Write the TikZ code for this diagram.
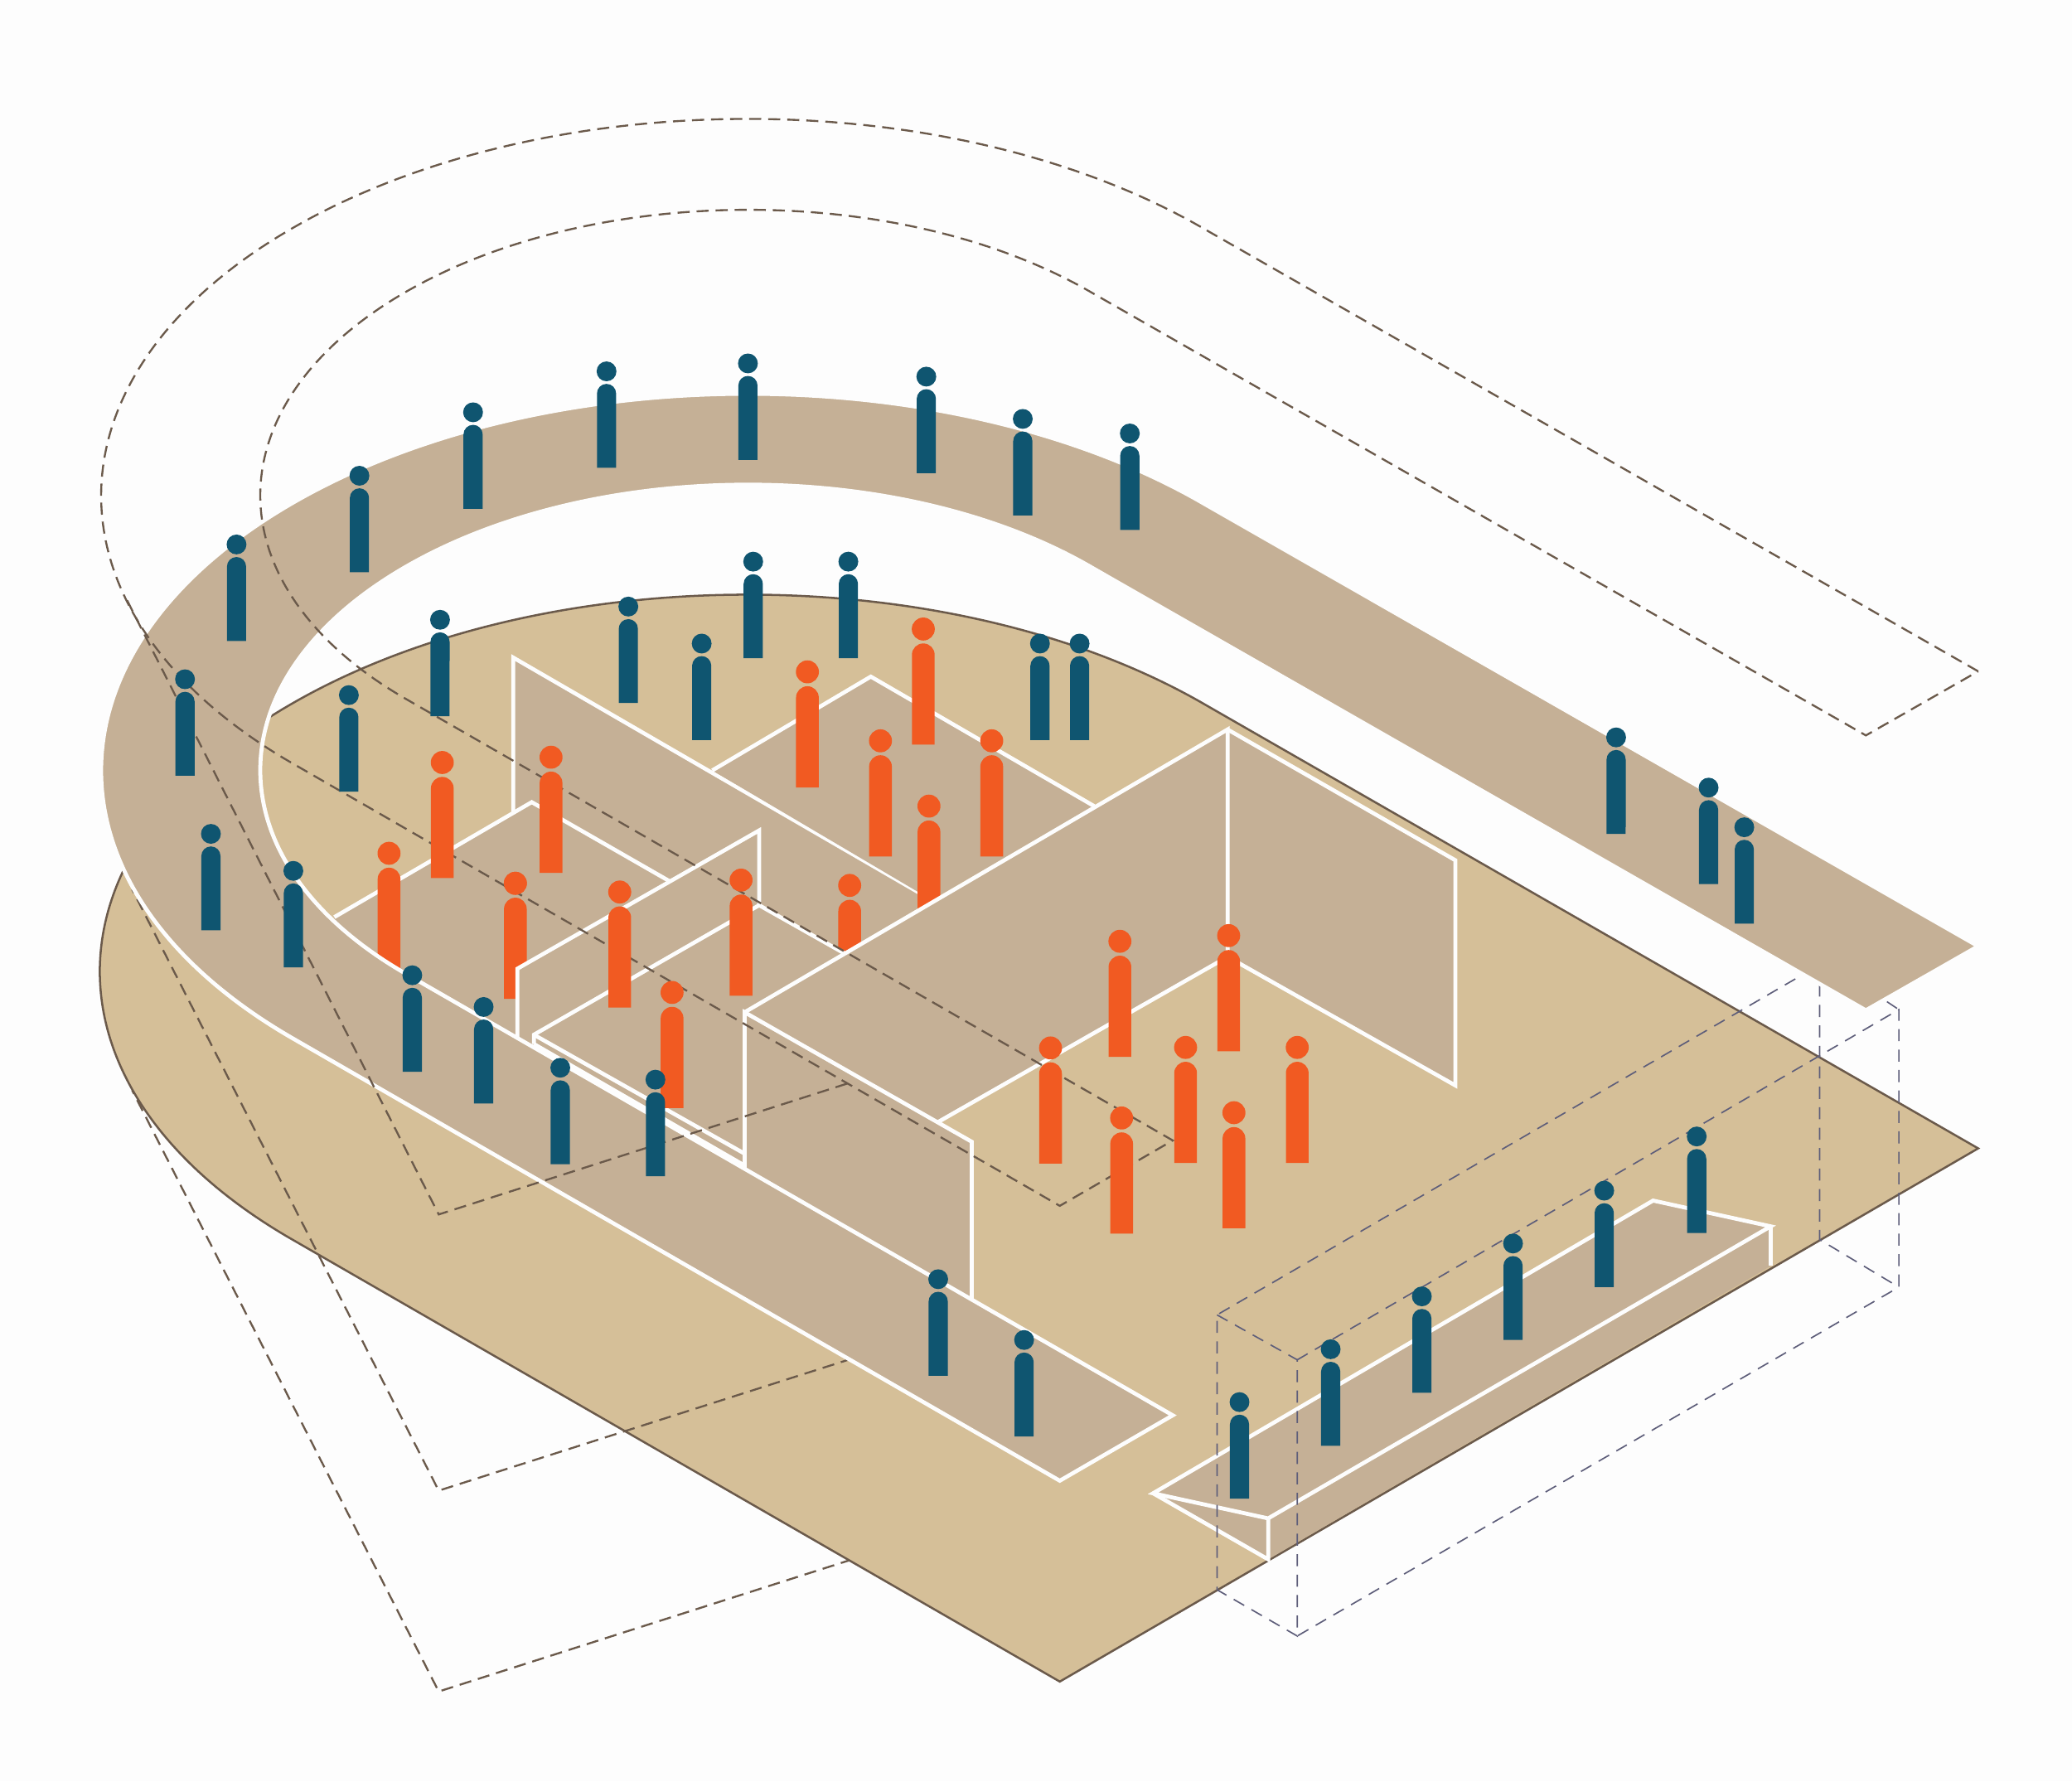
\documentclass[tikz,border=0pt]{standalone}
\definecolor{paper}{HTML}{FDFDFD}
\definecolor{floortan}{HTML}{D5BF98}
\definecolor{walltan}{HTML}{C5B096}
\definecolor{edgebrown}{HTML}{6B5A4B}
\definecolor{boxgrey}{HTML}{5E5E7A}
\definecolor{peopleblue}{HTML}{0F5570}
\definecolor{peopleorange}{HTML}{F15A22}
\tikzset{
  wallface/.style={fill=walltan},
  wallline/.style={draw=paper,line width=0.85pt,line join=miter},
  ghostline/.style={draw=edgebrown,line width=0.42pt,dash pattern=on 2.6pt off 1.5pt},
  boxline/.style={draw=boxgrey,line width=0.3pt,dash pattern=on 2.6pt off 1.8pt}}
\newcommand{\ringoutline}[1]{%
  (#1,716) -- (911.8,381.5) arc[start angle=-45,end angle=-225,x radius=4.89cm,y radius=2.85cm]
  -- (802,1120.5) -- (887.5,1071) -- (305.1,735.7)
  arc[start angle=135,end angle=315,x radius=3.69cm,y radius=2.16cm]
  -- (1412,764.5) -- cycle}
\newcommand{\bluefigure}[2]{%
  \fill[peopleblue] (#1,#2) circle (7.5);
  \fill[peopleblue] (#1-7.25,#2+73) -- (#1-7.25,#2+16.75)
    arc[start angle=180,end angle=360,radius=0.0725cm] -- (#1+7.25,#2+73) -- cycle;}
\newcommand{\orangefigure}[2]{%
  \fill[peopleorange] (#1,#2) circle (8.7);
  \fill[peopleorange] (#1-8.6,#2+87.5) -- (#1-8.6,#2+19.5)
    arc[start angle=180,end angle=360,radius=0.086cm] -- (#1+8.6,#2+87.5) -- cycle;}
\begin{document}
\begin{tikzpicture}[x=0.01cm,y=0.01cm,yscale=-1]
    \useasboundingbox (0,0) rectangle (1568,1348);
    \fill[paper] (0,0) rectangle (1568,1348);
    % lowest footprint, runs under the floor
    \draw[ghostline] (645,1180) -- (332,1280) -- (100,825);
    \fill[floortan,draw=edgebrown,line width=0.45pt] (1497,869) -- (912.5,533.5)
      arc[start angle=-45,end angle=-225,x radius=4.9cm,y radius=2.85cm] -- (802,1272.5) -- cycle;
    % middle footprint, runs under the ring
    \draw[ghostline] (645,1028) -- (332,1128) -- (100,673);
    % back wall and the rear platform
    \fill[wallface] (388.4,497.6) -- (705,681) -- (705,800) -- (388.4,615) -- cycle;
    \draw[wallline] (388.4,615) -- (388.4,497.6) -- (705,681);
    \fill[wallface] (539,583) -- (659,512) -- (828,610) -- (705,681) -- cycle;
    \draw[wallline] (539,583) -- (659,512) -- (828,610);
    % left platform
    \fill[wallface] (253,694) -- (402.4,607) -- (507,667) -- (391.6,733) -- (391.6,795) -- (290,745) -- (253,705) -- cycle;
    \draw[wallline] (253,694) -- (402.4,607) -- (507,667);
    % these people stand behind a wall or the ring
    \foreach \x/\y in {294.4/645.7,390/668.4,703/610,643/670,592/752}{\orangefigure{\x}{\y}}
    % middle wall and its raised floor
    \fill[wallface] (391.6,733) -- (574.5,628.4) -- (574.5,685) -- (404,783) -- (404,790) -- (391.6,790) -- cycle;
    \draw[wallline] (391.6,790) -- (391.6,733) -- (574.5,628.4) -- (574.5,685);
    \fill[wallface] (404,783) -- (574.5,685) -- (640,722) -- (563.5,766) -- (563.5,882) -- (404,790) -- cycle;
    \draw[wallline] (404,790) -- (404,783) -- (574.5,685) -- (640,722);
    \draw[wallline] (404,783) -- (563.5,873);
    \draw[wallline] (404,790) -- (563.5,882);
    % large corner walls
    \fill[wallface] (563.5,766) -- (929,552) -- (929,724) -- (710,849) -- cycle;
    \fill[wallface] (929,552) -- (1101.4,651) -- (1101.4,821.4) -- (929,724) -- cycle;
    \fill[wallface] (563.5,766) -- (735.4,864) -- (735.4,985) -- (563.5,888) -- cycle;
    \draw[wallline] (710,849) -- (929,724) -- (929,552) -- (563.5,766);
    \draw[wallline] (929,552) -- (1101.4,651) -- (1101.4,821.4) -- (929,724);
    \draw[wallline] (563.5,888) -- (563.5,766) -- (735.4,864) -- (735.4,985);
    % stand at the floor edge
    \fill[wallface] (872.6,1130) -- (1251,908.5) -- (1340,928) -- (1340,958) -- (959.7,1180) -- cycle;
    \draw[wallline] (872.6,1130) -- (1251,908.5) -- (1340,928) -- (959.7,1149) -- cycle;
    \draw[wallline] (872.6,1130) -- (959.7,1180) -- (959.7,1149);
    \draw[wallline] (1340,928) -- (1340,958);
    % dashed box over the stand
    \draw[boxline] (1372,733) -- (921,995) -- (921,1203);
    \draw[boxline] (921,995) -- (981.7,1029) -- (981.7,1238) -- (921,1203);
    \draw[boxline] (981.7,1029) -- (1437,764) -- (1437,974) -- (981.7,1238);
    \draw[boxline] (1377,745) -- (1377,938) -- (1437,974);
    \draw[boxline] (1428,758) -- (1437,764);
    % ring
    \path[wallface,wallline] \ringoutline{1497};
    % upper copy of the ring and the footprint on top
    \draw[ghostline,shift={(0,-208)}] \ringoutline{1497};
    \draw[ghostline] (641,820) -- (332,919) -- (94,450);
    \fill[peopleorange] (390,668.4) circle (8.7);
    \foreach \x/\y in {%
      334.7/577,417/573,%
      611/508.4,698.7/476,666.3/560.6,750.5/560.6,%
      469/675,560.8/666,508.6/751,%
      847.5/712.3,929.8/708,795/793,897.2/792.6,981.7/792.6,848.8/846,933.8/842}{\orangefigure{\x}{\y}}
    \foreach \x/\y in {%
      140/514,179/412,272/360,358/312,459/281,566/275,701/285,774/317,855/328,%
      159.6/631,222/659,%
      333/469,264/526,475.5/459,531/487,570/425,642/425,787/487,817/487,%
      1223/558,1293/596,1320/626,%
      312/738,366/762,424/808,496/817,710/968,775/1014,%
      938/1061,1007/1021,1076/981,1145/941,1214/901,1284/860}{\bluefigure{\x}{\y}}
  \end{tikzpicture}
\end{document}
